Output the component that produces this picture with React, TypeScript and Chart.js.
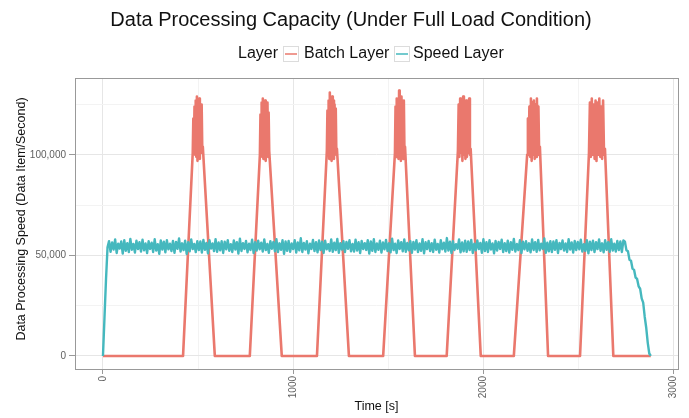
import React, { useEffect, useRef } from "react";
import { Chart, registerables } from "chart.js";

Chart.register(...registerables);

const FONT = '"Liberation Sans", Arial, Helvetica, sans-serif';

const chartTitle = "Data Processing Capacity (Under Full Load Condition)";
const legendTitle = "Layer";
const seriesNames = ["Batch Layer", "Speed Layer"];
const seriesColors = ["#EA786D", "#45B8BE"];
const xAxisTitle = "Time [s]";
const yAxisTitle = "Data Processing Speed (Data Item/Second)";

const xMajorTicks = [0, 1000, 2000, 3000];
const xMinorTicks = [500, 1500, 2500];
const yMajorTicks = [0, 50000, 100000];
const yMinorTicks = [25000, 75000, 125000];
const xRange = [-147, 3023];
const yRange = [-6500, 138200];

// Speed layer: one reading every 8 s from 0 s to 2880 s (thousand items / s)
const speedSampleStep = 8;
const speedRamp = [0, 19, 38, 54];
const speedSteady = [
  57.1, 51.8, 56.4, 52.9, 57.9, 51.2, 55.8, 53.4, 56.9, 50.9, 57.5, 52.3, 56.1, 51.6, 58.2, 52.8, 55.7, 51.4, 57.3, 53.1,
  56.6, 51.9, 57.8, 52.5, 55.9, 51.1, 57.0, 53.2, 56.3, 51.7, 58.0, 52.4, 55.6, 50.8, 57.4, 52.9, 56.8, 51.5, 57.6, 53.0,
  55.8, 52.2, 57.2, 51.3, 56.7, 53.3, 58.4, 51.9, 56.0, 52.6, 57.3, 50.7, 56.5, 52.0, 57.9, 53.1, 55.7, 51.6, 57.1, 52.7,
  56.9, 51.4, 57.7, 52.8, 56.2, 51.0, 57.5, 53.4, 55.9, 52.1, 58.1, 51.8, 56.4, 52.5, 57.0, 51.2, 56.8, 53.0, 57.6, 52.3,
  55.6, 51.7, 57.4, 52.9, 56.6, 50.9, 58.3, 52.2, 56.1, 53.2, 57.2, 51.5, 55.8, 52.7, 57.8, 51.1, 56.5, 52.4, 57.3, 53.0,
  56.3, 51.9, 57.9, 52.6, 55.7, 51.3, 57.1, 53.3, 56.7, 52.0, 58.0, 51.6, 56.0, 52.8, 57.5, 50.8, 56.9, 52.3, 57.2, 51.8,
  55.9, 53.1, 57.6, 51.4, 56.4, 52.5, 58.5, 51.7, 56.2, 52.9, 57.0, 51.0, 55.8, 53.2, 57.7, 52.1, 56.6, 51.5, 57.4, 52.7,
  56.8, 51.2, 57.3, 53.0, 55.6, 52.2, 57.9, 51.8, 56.3, 52.6, 58.2, 51.3, 56.0, 52.9, 57.1, 51.6, 56.7, 53.3, 57.5, 52.0,
  55.7, 51.9, 57.8, 52.4, 56.5, 51.1, 57.2, 53.1, 56.1, 52.7, 57.6, 50.9, 56.9, 52.3, 58.0, 51.7, 55.9, 52.8, 57.3, 51.4,
  56.4, 53.0, 57.7, 52.1, 56.0, 51.5, 58.3, 52.6, 55.8, 51.2, 57.4, 53.2, 56.6, 52.0, 57.9, 51.8, 56.2, 52.5, 57.0, 51.3,
  56.7, 52.9, 57.5, 51.6, 55.9, 52.3, 58.1, 51.0, 56.5, 53.1, 57.2, 52.2, 56.1, 51.7, 57.8, 52.8, 55.7, 51.4, 57.6, 53.0,
  56.3, 51.9, 58.6, 52.4, 56.8, 51.1, 57.1, 52.7, 55.6, 53.3, 57.9, 51.5, 56.4, 52.0, 57.3, 51.8, 56.9, 52.6, 57.7, 51.2,
  55.8, 52.5, 57.4, 53.1, 56.2, 51.3, 58.0, 52.1, 56.6, 51.7, 57.6, 52.9, 55.9, 51.0, 57.2, 52.4, 56.7, 53.2, 57.8, 51.6,
  56.1, 52.2, 57.3, 51.4, 56.5, 52.8, 58.2, 51.9, 55.7, 52.6, 57.5, 51.1, 56.8, 53.0, 57.0, 52.3, 56.0, 51.5, 57.9, 52.7,
  56.6, 51.8, 57.7, 52.5, 55.8, 53.2, 58.4, 51.3, 56.3, 52.0, 57.1, 51.6, 56.9, 52.8, 57.6, 51.2, 56.2, 53.1, 57.4, 52.4,
  55.9, 51.7, 58.1, 52.9, 56.4, 51.4, 57.2, 52.6, 56.7, 53.0, 57.8, 51.9, 55.6, 52.2, 57.5, 51.0, 56.8, 52.7, 57.3, 51.6,
  56.5, 53.1, 57.9, 52.3, 56.0, 51.5, 57.6, 52.8, 56.6, 51.8, 58.0, 52.4, 55.8, 51.9, 57.2, 52.6, 56.9, 51.7, 57.4,
];
const speedRunDown = [56.8, 52.5, 52.0, 47.8, 47.3, 43.4, 42.8, 39.0, 38.3, 34.6, 33.4, 28.6, 26.5, 19.5, 14.0, 6.5, 1.2, 0];

// Batch layer: seven processing pulses (times in s)
const pulseStart = [421, 772, 1125, 1473, 1807, 2160, 2508];
const pulseTopStart = [472, 825, 1177, 1535, 1866, 2230, 2555];
const pulseTopEnd = [525, 877, 1230, 1588, 1933, 2297, 2639];
const pulseEnd = [588, 940, 1293, 1640, 1986, 2340, 2683];
// readings across each pulse's peak (thousand items / s)
const pulseTop1 = [101, 118, 104, 124, 100, 127, 99, 129, 97, 126, 100, 128, 98, 123, 101, 125, 103, 104];
const pulseTop2 = [100, 120, 103, 126, 99, 128, 98, 125, 101, 127, 97, 124, 100, 126, 99, 121, 102, 102];
const pulseTop3 = [102, 122, 100, 127, 98, 131, 99, 126, 97, 129, 100, 127, 98, 125, 101, 123, 100, 103];
const pulseTop4 = [101, 124, 99, 128, 100, 126, 98, 132, 99, 127, 97, 129, 100, 125, 98, 127, 101, 104];
const pulseTop5 = [102, 125, 99, 128, 101, 126, 97, 129, 100, 124, 98, 127, 99, 125, 101, 128, 100, 103];
const pulseTop6 = [100, 118, 102, 124, 99, 128, 97, 126, 100, 127, 98, 125, 99, 128, 101, 124, 100, 104];
const pulseTop7 = [101, 126, 99, 128, 100, 125, 98, 127, 97, 126, 100, 128, 99, 124, 98, 127, 100, 103];
const pulseTops = [pulseTop1, pulseTop2, pulseTop3, pulseTop4, pulseTop5, pulseTop6, pulseTop7];
const batchEndTime = 2880;

// layout (pixels)
const W = 689;
const H = 418;
const AREA_LEFT = 75;
const AREA_RIGHT = 678;
const AREA_TOP = 78;
const AREA_BOTTOM = 369;

function buildSpeed() {
  const vals = [...speedRamp, ...speedSteady, ...speedRunDown];
  return vals.map((v, i) => ({ x: i * speedSampleStep, y: v * 1000 }));
}

function buildBatch() {
  const pts: { x: number; y: number }[] = [{ x: 0, y: 0 }];
  for (let i = 0; i < pulseStart.length; i++) {
    pts.push({ x: pulseStart[i], y: 0 });
    const tops = pulseTops[i];
    const n = tops.length;
    for (let j = 0; j < n; j++) {
      pts.push({
        x: pulseTopStart[i] + (j * (pulseTopEnd[i] - pulseTopStart[i])) / (n - 1),
        y: tops[j] * 1000,
      });
    }
    pts.push({ x: pulseEnd[i], y: 0 });
  }
  pts.push({ x: batchEndTime, y: 0 });
  return pts;
}

const decorPlugin = {
  id: "decor",
  afterDraw(chart: any) {
    const ctx = chart.ctx as CanvasRenderingContext2D;
    const a = chart.chartArea;
    ctx.save();
    // panel border
    ctx.strokeStyle = "#999999";
    ctx.lineWidth = 1;
    ctx.strokeRect(Math.round(a.left) + 0.5, Math.round(a.top) + 0.5, Math.round(a.right - a.left), Math.round(a.bottom - a.top));

    // title
    ctx.fillStyle = "#111111";
    ctx.textAlign = "center";
    ctx.textBaseline = "middle";
    ctx.font = `20px ${FONT}`;
    ctx.fillText(chartTitle, 351, 20);

    // legend
    ctx.font = `16px ${FONT}`;
    ctx.textAlign = "left";
    const ly = 54;
    const bs = 16;
    const boxX = [283, 394];
    const textX = [304, 413];
    ctx.fillText(legendTitle, 238, ly);
    for (let i = 0; i < seriesNames.length; i++) {
      const bx = boxX[i];
      const by = Math.round(ly - bs / 2);
      ctx.fillStyle = "#ffffff";
      ctx.fillRect(bx, by, bs, bs);
      ctx.strokeStyle = "#dcdcdc";
      ctx.lineWidth = 1;
      ctx.strokeRect(bx + 0.5, by + 0.5, bs - 1, bs - 1);
      ctx.strokeStyle = seriesColors[i];
      ctx.lineWidth = 1.5;
      ctx.beginPath();
      ctx.moveTo(bx + 2, ly);
      ctx.lineTo(bx + bs - 2, ly);
      ctx.stroke();
      ctx.fillStyle = "#111111";
      ctx.fillText(seriesNames[i], textX[i], ly);
    }

    // axis titles
    ctx.font = `12.5px ${FONT}`;
    ctx.textAlign = "center";
    ctx.fillStyle = "#111111";
    ctx.fillText(xAxisTitle, (a.left + a.right) / 2, 407);
    ctx.translate(22, 219);
    ctx.rotate(-Math.PI / 2);
    ctx.fillText(yAxisTitle, 0, 0);
    ctx.restore();
  },
};

function fmt(v: number) {
  return v.toLocaleString("en-US");
}

export default function App() {
  const ref = useRef<HTMLCanvasElement | null>(null);
  useEffect(() => {
    document.body.style.margin = "0";
    const canvas = ref.current!;
    const tickFont = { family: FONT, size: 10 };
    const chart = new Chart(canvas, {
      type: "line",
      data: {
        datasets: [
          {
            label: seriesNames[1],
            data: buildSpeed(),
            borderColor: seriesColors[1],
            borderWidth: 2.4,
            borderJoinStyle: "round",
            pointRadius: 0,
            tension: 0,
            order: 0,
          },
          {
            label: seriesNames[0],
            data: buildBatch(),
            borderColor: seriesColors[0],
            borderWidth: 2.6,
            borderJoinStyle: "round",
            pointRadius: 0,
            tension: 0,
            order: 1,
          },
        ],
      },
      options: {
        animation: false,
        responsive: false,
        devicePixelRatio: 1,
        events: [],
        layout: { padding: { top: AREA_TOP, left: 0, right: W - AREA_RIGHT, bottom: 0 } },
        plugins: {
          legend: { display: false },
          title: { display: false },
          tooltip: { enabled: false },
        },
        scales: {
          x: {
            type: "linear",
            min: xRange[0],
            max: xRange[1],
            afterBuildTicks: (s: any) => {
              s.ticks = [...xMajorTicks, ...xMinorTicks].sort((p, q) => p - q).map((v) => ({ value: v }));
            },
            afterFit: (s: any) => {
              s.height = H - AREA_BOTTOM;
            },
            border: { display: false },
            grid: {
              color: (c: any) => (xMajorTicks.includes(c.tick?.value) ? "#e6e6e6" : "#f3f3f3"),
              lineWidth: 1,
              tickLength: 5,
              tickColor: (c: any) => (xMajorTicks.includes(c.tick?.value) ? "#999999" : "rgba(0,0,0,0)"),
            },
            ticks: {
              autoSkip: false,
              minRotation: 90,
              maxRotation: 90,
              padding: 2,
              color: "#5f5f5f",
              font: tickFont,
              callback: (v: any) => (xMajorTicks.includes(v) ? String(v) : ""),
            },
          },
          y: {
            type: "linear",
            min: yRange[0],
            max: yRange[1],
            afterBuildTicks: (s: any) => {
              s.ticks = [...yMajorTicks, ...yMinorTicks].sort((p, q) => p - q).map((v) => ({ value: v }));
            },
            afterFit: (s: any) => {
              s.width = AREA_LEFT;
            },
            border: { display: false },
            grid: {
              color: (c: any) => (yMajorTicks.includes(c.tick?.value) ? "#e6e6e6" : "#f3f3f3"),
              lineWidth: 1,
              tickLength: 6,
              tickColor: (c: any) => (yMajorTicks.includes(c.tick?.value) ? "#999999" : "rgba(0,0,0,0)"),
            },
            ticks: {
              padding: 3,
              color: "#5f5f5f",
              font: tickFont,
              callback: (v: any) => (yMajorTicks.includes(v) ? fmt(v) : ""),
            },
          },
        },
      },
      plugins: [decorPlugin],
    } as any);
    return () => chart.destroy();
  }, []);
  return (
    <div style={{ width: W, height: H, background: "#ffffff" }}>
      <canvas ref={ref} width={W} height={H} style={{ display: "block", width: W, height: H }} />
    </div>
  );
}
